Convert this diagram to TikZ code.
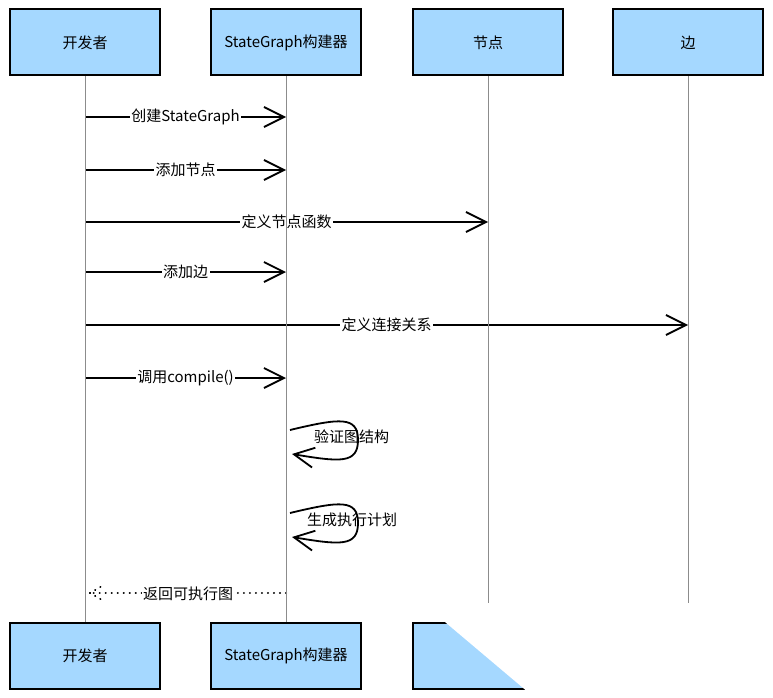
\documentclass[tikz,border=0pt]{standalone}
\usepackage{fontspec}
\setmainfont{Noto Sans CJK SC}
\usetikzlibrary{arrows.meta}
\definecolor{boxblue}{HTML}{A5D8FF}

\begin{document}
\begin{tikzpicture}[x=1pt, y=-1pt,
    box/.style={rectangle, draw=black, line width=2pt, fill=boxblue,
                minimum width=150pt, minimum height=66pt, align=center,
                font=\fontsize{15}{17}\selectfont},
    life/.style={draw=black!45, line width=0.7pt},
    msg/.style={-{Straight Barb[length=20pt, width=20pt]}, line width=1.8pt},
    ret/.style={line width=2.2pt, line cap=round, dash pattern=on 0.01pt off 6pt},
    lbl/.style={fill=white, inner sep=1.5pt, font=\fontsize{15}{17}\selectfont},
    note/.style={inner sep=1pt, font=\fontsize{15}{17}\selectfont},
  ]

  \useasboundingbox (0,0) rectangle (773,698);

  % participants, top row
  \node[box] (dev)   at (85, 42.5)  {开发者};
  \node[box] (build) at (286, 42.5) {StateGraph构建器};
  \node[box] (nodes) at (488, 42.5) {节点};
  \node[box] (edges) at (688, 42.5) {边};

  % participants, bottom row
  \node[box] (devB)   at (85, 656)  {开发者};
  \node[box] (buildB) at (286, 656) {StateGraph构建器};
  \node[box] (nodesB) at (488, 656) {};
  \node[box] (edgesB) at (688, 656) {};

  % points on the lifelines
  \coordinate (m1s) at (85, 117);  \coordinate (m1e) at (286, 117);
  \coordinate (m2s) at (85, 170);  \coordinate (m2e) at (286, 170);
  \coordinate (m3s) at (85, 222);  \coordinate (m3e) at (488, 222);
  \coordinate (m4s) at (85, 272);  \coordinate (m4e) at (286, 272);
  \coordinate (m5s) at (85, 325);  \coordinate (m5e) at (688, 325);
  \coordinate (m6s) at (85, 378);  \coordinate (m6e) at (286, 378);
  \coordinate (s1s) at (290, 430); \coordinate (s1e) at (292, 454);
  \coordinate (s2s) at (290, 513); \coordinate (s2e) at (292, 537);
  \coordinate (m7s) at (286, 593); \coordinate (m7e) at (90, 593);

  % messages
  \draw[msg] (m1s) -- (m1e) node[lbl, midway] {创建StateGraph};
  \draw[msg] (m2s) -- (m2e) node[lbl, midway] {添加节点};
  \draw[msg] (m3s) -- (m3e) node[lbl, midway] {定义节点函数};
  \draw[msg] (m4s) -- (m4e) node[lbl, midway] {添加边};
  \draw[msg] (m5s) -- (m5e) node[lbl, midway] {定义连接关系};
  \draw[msg] (m6s) -- (m6e) node[lbl, midway] {调用compile()};

  % self calls
  \draw[msg] (s1s) .. controls (340,418) and (358,416) .. (358,440)
                   .. controls (358,464) and (340,462) .. (s1e);
  \node[note, anchor=west] (v1) at (313, 437) {验证图结构};
  \draw[msg] (s2s) .. controls (340,501) and (358,499) .. (358,523)
                   .. controls (358,547) and (340,545) .. (s2e);
  \node[note, anchor=west] (v2) at (306, 520) {生成执行计划};

  % return
  \draw[ret] (m7s) -- (m7e) node[lbl, midway, yshift=-1pt] {返回可执行图};
  \draw[ret] (m7e) -- ++(12,-7) (m7e) -- ++(12,7);

  % lifelines
  \draw[life] (dev) -- (devB);
  \draw[life] (build) -- (buildB);
  \draw[life] (nodes) -- (nodesB);
  \draw[life] (edges) -- (edgesB);

  % washed-out corner
  \fill[white] (478,603) -- (445,622) -- (535,698) -- (773,698) -- (773,603) -- cycle;

\end{tikzpicture}
\end{document}
